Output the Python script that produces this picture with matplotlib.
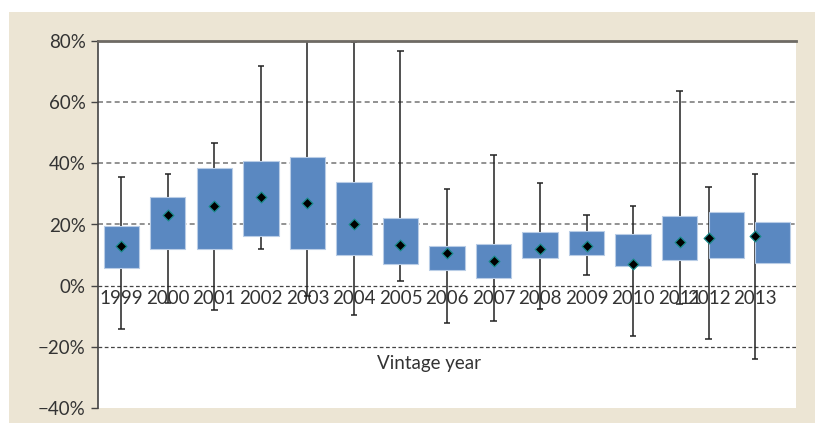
import matplotlib.pyplot as plt
import matplotlib.patches as mpatches
from matplotlib.ticker import FuncFormatter
import numpy as np

plt.rcParams['font.family'] = ['Lato', 'DejaVu Sans']

# return distribution per vintage year (%)
years = [1999, 2000, 2001, 2002, 2003, 2004, 2005, 2006, 2007, 2008, 2009, 2010, 2011, 2012, 2013]
whisker_low = [-14.2, -5.6, -7.8, 11.9, -3.4, -9.6, 1.4, -12.2, -11.6, -7.7, 3.4, -16.5, -6.1, -17.3, -23.9]
box_low = [5.9, 11.9, 12.1, 16.3, 12.1, 10.1, 7.1, 5.1, 2.6, 9.0, 10.1, 6.3, 8.4, 9.1, 7.3]
mean = [12.9, 23.1, 26.1, 28.9, 27.0, 20.1, 13.2, 10.6, 8.0, 11.9, 12.9, 7.1, 14.3, 15.5, 16.4]
box_high = [19.5, 29.0, 38.5, 40.7, 42.2, 33.9, 22.2, 13.0, 13.5, 17.6, 17.8, 16.9, 22.9, 24.1, 20.7]
whisker_high = [35.6, 36.4, 46.7, 71.7, 95.0, 79.6, 76.6, 31.7, 42.8, 33.5, 23.1, 26.2, 63.8, 32.1, 36.6]

box_color = '#5a88c1'
beige = '#ece5d4'
box_w = 0.76

fig = plt.figure(figsize=(8.15, 4.23), dpi=100)
fig.patch.set_facecolor('white')
fig.patches.append(mpatches.Rectangle((9 / 815, 0), 1, 1 - 12 / 423,
                                      transform=fig.transFigure, facecolor=beige,
                                      edgecolor='none', zorder=-10))

ax = fig.add_axes([98 / 815, 15 / 423, 698 / 815, 367 / 423])
ax.set_facecolor('white')

n = len(years)
x = np.arange(n, dtype=float)
# the last two boxes sit half a box to the right of their whiskers
stem_x = x.copy()
stem_x[years.index(2012):] -= box_w / 2

for i in range(n):
    ax.vlines(stem_x[i], whisker_low[i], whisker_high[i], color='#222222', lw=1.1, zorder=3)
    for v in (whisker_low[i], whisker_high[i]):
        ax.hlines(v, stem_x[i] - 0.07, stem_x[i] + 0.07, color='#222222', lw=1.1, zorder=3)
    ax.bar(x[i], box_high[i] - box_low[i], bottom=box_low[i], width=box_w,
           color=box_color, edgecolor='#b9cde6', linewidth=0.8, zorder=4)
    ax.text(stem_x[i], -1.4, str(years[i]), ha='center', va='top',
            fontsize=13.5, color='#333333', zorder=2)

ax.scatter(stem_x, mean, marker='D', s=30, color='black', edgecolors='#1a8a8a',
           linewidths=0.9, zorder=5)

# gridlines
for v in (60, 40, 20):
    ax.axhline(v, color='#7f7f7f', lw=1.2, ls=(0, (3, 2)), zorder=1)
for v in (0, -20):
    ax.axhline(v, color='#444444', lw=0.9, ls=(0, (3, 2)), zorder=1)

ax.text(6.62, -25.3, 'Vintage year', ha='center', va='center', fontsize=13.5, color='#333333')

ax.set_xlim(-0.5, n - 0.5)
ax.set_ylim(-40, 80)
ax.set_yticks(np.arange(-40, 81, 20))
ax.yaxis.set_major_formatter(FuncFormatter(lambda v, p: f'{int(v)}%'.replace('-', '\u2212')))
ax.set_xticks([])
ax.tick_params(axis='y', length=5, width=1, color='#444444', labelsize=13.5,
               labelcolor='#333333', pad=4)

for s in ('right', 'bottom'):
    ax.spines[s].set_visible(False)
ax.spines['left'].set_color('#444444')
ax.spines['left'].set_linewidth(1.2)
ax.spines['top'].set_color('#6e6a64')
ax.spines['top'].set_linewidth(2)
ax.spines['top'].set_zorder(6)

fig.savefig('out.png', dpi=100, facecolor=fig.get_facecolor())
